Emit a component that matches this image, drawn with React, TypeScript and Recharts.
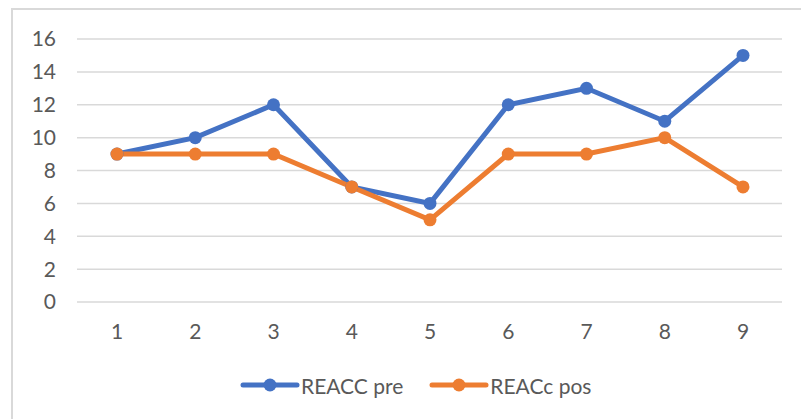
import { CartesianGrid, Legend, Line, LineChart, XAxis, YAxis } from "recharts";

const categories = ["1", "2", "3", "4", "5", "6", "7", "8", "9"];
const reaccPre = [9, 10, 12, 7, 6, 12, 13, 11, 15];
const reaccPos = [9, 9, 9, 7, 5, 9, 9, 10, 7];
const yTicks = [0, 2, 4, 6, 8, 10, 12, 14, 16];

const BLUE = "#4472C4";
const ORANGE = "#ED7D31";
const TEXT = "#595959";
const FONT = "Lato, 'Open Sans', sans-serif";

const rows = categories.map((name, i) => ({
  name,
  pre: reaccPre[i],
  pos: reaccPos[i],
}));

function LegendContent({ payload }: any) {
  return (
    <div
      style={{
        height: 30,
        display: "flex",
        justifyContent: "flex-start",
        alignItems: "center",
        fontFamily: FONT,
        fontSize: 21,
        color: TEXT,
        paddingLeft: 240,
      }}
    >
      {(payload || []).map((item: any, i: number) => (
        <div
          key={item.value}
          style={{ display: "flex", alignItems: "center", marginLeft: i ? 26 : 0 }}
        >
          <svg width={60} height={16} style={{ marginRight: 1 }}>
            <line x1={3} y1={8} x2={57} y2={8} stroke={item.color} strokeWidth={5} strokeLinecap="round" />
            <circle cx={30} cy={8} r={6.5} fill={item.color} />
          </svg>
          <span>{item.value}</span>
        </div>
      ))}
    </div>
  );
}

export default function App() {
  return (
    <div style={{ position: "fixed", left: 0, top: 0, width: 801, height: 419, background: "#fff", overflow: "hidden" }}>
      <div
        style={{
          position: "absolute",
          left: 11,
          top: 8,
          width: 820,
          height: 440,
          border: "2px solid #d9d9d9",
        }}
      />
      <div style={{ position: "absolute", left: 0, top: 0 }}>
        <LineChart
          width={801}
          height={419}
          data={rows}
          margin={{ top: 39, right: 19, left: 0, bottom: 19 }}
        >
          <CartesianGrid vertical={false} stroke="#d9d9d9" strokeWidth={1.5} />
          <XAxis
            dataKey="name"
            height={68}
            axisLine={false}
            tickLine={false}
            tickSize={0}
            tickMargin={22}
            padding={{ left: 40, right: 39 }}
            tick={{ fill: TEXT, fontSize: 21, fontFamily: FONT }}
          />
          <YAxis
            width={77}
            domain={[0, 16]}
            ticks={yTicks}
            axisLine={false}
            tickLine={false}
            tickSize={0}
            tickMargin={21}
            tick={{ fill: TEXT, fontSize: 21, fontFamily: FONT }}
          />
          <Legend verticalAlign="bottom" content={<LegendContent />} />
          <Line
            dataKey="pre"
            name="REACC pre"
            stroke={BLUE}
            strokeWidth={5}
            dot={{ r: 6.5, fill: BLUE, stroke: BLUE, strokeWidth: 0 }}
            isAnimationActive={false}
          />
          <Line
            dataKey="pos"
            name="REACc pos"
            stroke={ORANGE}
            strokeWidth={5}
            dot={{ r: 6.5, fill: ORANGE, stroke: ORANGE, strokeWidth: 0 }}
            isAnimationActive={false}
          />
        </LineChart>
      </div>
    </div>
  );
}
